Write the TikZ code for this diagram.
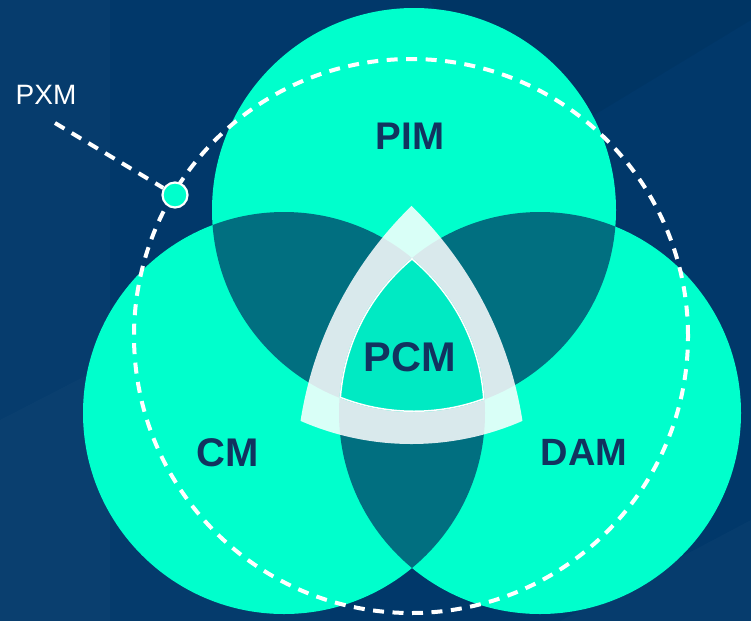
\documentclass[tikz,border=0pt]{standalone}
\usepackage{fontspec}
\setmainfont{Liberation Sans}
\definecolor{bg}{HTML}{01386A}
\definecolor{mint}{HTML}{00FFCC}
\definecolor{lens}{HTML}{016F80}
\definecolor{core}{HTML}{00EAC3}
\definecolor{ink}{HTML}{12335F}
\tikzset{
  label/.style={text=ink, inner sep=0pt, font=\fontsize{39pt}{39pt}\selectfont\bfseries},
  dashline/.style={white, line width=4pt, dash pattern=on 11pt off 8.5pt},
  marker/.style={circle, draw=white, fill=mint, line width=2.2pt, minimum size=25pt, inner sep=0pt}
}
\begin{document}
\begin{tikzpicture}[x=1pt,y=-1pt]
\useasboundingbox (0,0) rectangle (751,621);
% background
\fill[bg] (0,0) rectangle (751,621);
\fill[white,opacity=0.025] (0,0) rectangle (110,621);
\fill[white,opacity=0.02] (0,420) -- (330,250) -- (330,621) -- (0,621) -- cycle;
\fill[black,opacity=0.05] (430,0) -- (751,0) -- (751,20) -- (520,160) -- cycle;
\fill[white,opacity=0.025] (751,520) -- (560,621) -- (751,621) -- cycle;
% circle centres
\coordinate (ct) at (414,210);
\coordinate (cl) at (284,413);
\coordinate (cr) at (540,413);
% circles
\fill[mint] (ct) circle[radius=202pt];
\fill[mint] (cl) circle[radius=201pt];
\fill[mint] (cr) circle[radius=201pt];
% pairwise overlaps
\begin{scope}
  \clip (ct) circle[radius=202pt];
  \fill[lens] (cl) circle[radius=201pt];
  \fill[lens] (cr) circle[radius=201pt];
\end{scope}
\begin{scope}
  \clip (cl) circle[radius=201pt];
  \fill[lens] (cr) circle[radius=201pt];
\end{scope}
% band around the centre
\begin{scope}
  \clip (679,480) circle[radius=383pt];
  \clip (144,480) circle[radius=383pt];
  \fill[white,opacity=0.85] (411.5,167) circle[radius=277pt];
\end{scope}
% core region
\begin{scope}
  \clip (ct) circle[radius=202pt];
  \clip (cl) circle[radius=201pt];
  \clip (cr) circle[radius=201pt];
  \fill[core] (cr) circle[radius=201pt];
  \draw[white,line width=3pt] (ct) circle[radius=202pt];
  \draw[white,line width=3pt] (cl) circle[radius=201pt];
  \draw[white,line width=3pt] (cr) circle[radius=201pt];
\end{scope}
% dashed outer circle
\draw[dashline] (411,336) circle[radius=277pt];
% PXM marker and connector
\coordinate (pxmline) at (55,123);
\node[marker] (mark) at (175,195) {};
\draw[dashline] (pxmline) -- (mark);
\node[text=white, inner sep=0pt, font=\fontsize{28pt}{28pt}\selectfont] (pxm) at (46,95) {PXM};
% labels
\node[label, font=\fontsize{38.5pt}{38.5pt}\selectfont\bfseries] (pim) at (410,136.5) {PIM};
\node[label, font=\fontsize{41.5pt}{41.5pt}\selectfont\bfseries] (pcm) at (409.5,357) {PCM};
\node[label, font=\fontsize{40pt}{40pt}\selectfont\bfseries] (cm) at (227.5,452.5) {CM};
\node[label, font=\fontsize{38pt}{38pt}\selectfont\bfseries] (dam) at (584,452.5) {DAM};
\end{tikzpicture}
\end{document}
